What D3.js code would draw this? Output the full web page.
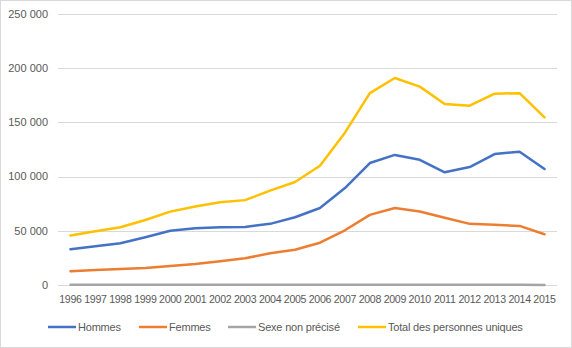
<!DOCTYPE html>
<html><head><meta charset="utf-8">
<script src="https://cdn.jsdelivr.net/npm/d3@7/dist/d3.min.js"></script>
<style>body{margin:0;background:#fff}svg{display:block}</style>
</head><body><div id="chart"></div>
<script>
const years = ["1996","1997","1998","1999","2000","2001","2002","2003","2004","2005","2006","2007","2008","2009","2010","2011","2012","2013","2014","2015"];
const hommes = [33000,35800,38500,44000,50000,52400,53300,53600,56400,62500,71000,89400,112500,120000,115500,104000,108800,120800,123000,107000];
const femmes = [12700,13800,14800,15700,17500,19400,21900,24600,29300,32500,39000,50500,64700,71000,67800,62000,56400,55500,54500,46800];
const nonPrecise = [300,300,300,300,300,300,300,300,300,300,300,300,300,300,300,300,300,300,300,0];
const total = [45600,49500,53300,60000,67700,72400,76400,78300,87000,95000,110000,140500,177000,191000,183000,167000,165400,176500,177000,154600];
const yTicks = [0,50000,100000,150000,200000,250000];
const seriesNames = ["Hommes","Femmes","Sexe non précisé","Total des personnes uniques"];
const colors = ["#4472C4","#ED7D31","#A5A5A5","#FFC000"];
const seriesData = [hommes, femmes, nonPrecise, total];

const W = 572, H = 348;
const svg = d3.select("#chart").append("svg").attr("width", W).attr("height", H);
svg.append("rect").attr("x",0.5).attr("y",0.5).attr("width",W-1).attr("height",H-1)
  .attr("fill","#fff").attr("stroke","#d9d9d9");

const x = d3.scaleBand().domain(years).range([58, 557]);
const y = d3.scaleLinear().domain([0, 250000]).range([285, 14]);
const font = "'Liberation Sans', Arial, sans-serif";
const fmt = v => d3.format(",")(v).replace(/,/g, " ");

svg.append("g").selectAll("line").data(yTicks).join("line")
  .attr("x1", 58).attr("x2", 557)
  .attr("y1", d => Math.round(y(d)) + 0.5).attr("y2", d => Math.round(y(d)) + 0.5)
  .attr("stroke", "#d9d9d9").attr("stroke-width", 1);

svg.append("g").selectAll("text").data(yTicks).join("text")
  .attr("x", 48).attr("y", d => y(d)).attr("dy", "0.35em")
  .attr("text-anchor", "end").attr("font-family", font).attr("font-size", 11)
  .attr("fill", "#595959").text(fmt);

svg.append("g").selectAll("text").data(years).join("text")
  .attr("x", d => x(d) + x.bandwidth()/2).attr("y", 299).attr("dy", "0.35em")
  .attr("text-anchor", "middle").attr("font-family", font).attr("font-size", 10.6)
  .attr("letter-spacing", -0.3)
  .attr("fill", "#595959").text(d => d);

const line = d3.line().x((d, i) => x(years[i]) + x.bandwidth()/2).y(d => y(d));
// draw order: grey at bottom, then others
[2,0,1,3].forEach(i => {
  svg.append("path").datum(seriesData[i]).attr("d", line)
    .attr("fill", "none").attr("stroke", colors[i]).attr("stroke-width", 2.5)
    .attr("stroke-linejoin", "round").attr("stroke-linecap", "round");
});

const legX = [48, 139, 228, 358];
const lg = svg.append("g");
seriesNames.forEach((n, i) => {
  lg.append("line").attr("x1", legX[i]).attr("x2", legX[i] + 28)
    .attr("y1", 327).attr("y2", 327).attr("stroke", colors[i]).attr("stroke-width", 2.5);
  lg.append("text").attr("x", legX[i] + 30).attr("y", 327).attr("dy", "0.35em")
    .attr("font-family", font).attr("font-size", 11).attr("fill", "#595959")
    .attr("letter-spacing", -0.2).text(n);
});
</script>
</body></html>
